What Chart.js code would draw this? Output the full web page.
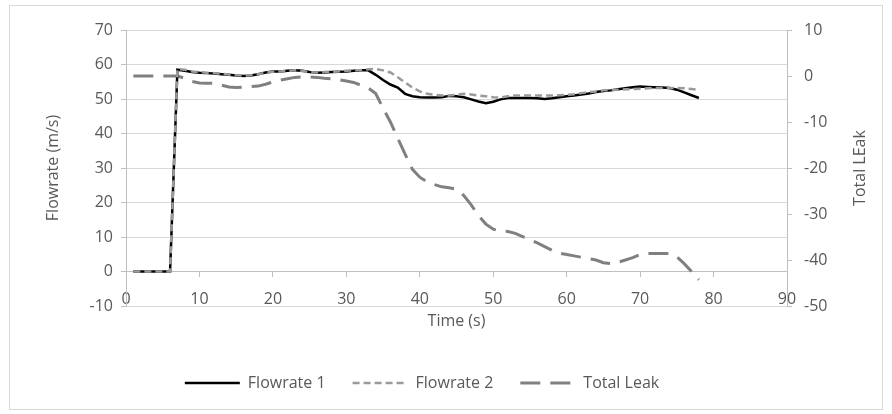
<!DOCTYPE html>
<html>
<head>
<meta charset="utf-8">
<script src="https://cdn.jsdelivr.net/npm/chart.js@4.4.1/dist/chart.umd.min.js"></script>
<style>
  html, body { margin: 0; padding: 0; background: #fff; }
  #wrap { position: relative; width: 892px; height: 414px; }
</style>
</head>
<body>
<div id="wrap"><canvas id="chart" width="892" height="414"></canvas></div>
<script>
// Time axis (s)
const time = [1, 2, 3, 4, 5, 6, 7, 8, 9, 10, 11, 12, 13, 14, 15, 16, 17, 18, 19, 20,
    21, 22, 23, 24, 25, 26, 27, 28, 29, 30, 31, 32, 33, 34, 35, 36, 37, 38, 39, 40,
    41, 42, 43, 44, 45, 46, 47, 48, 49, 50, 51, 52, 53, 54, 55, 56, 57, 58, 59, 60,
    61, 62, 63, 64, 65, 66, 67, 68, 69, 70, 71, 72, 73, 74, 75, 76, 77, 78];

// Flowrate 1 (ml/s) - left axis
const flowrate1 = [0, 0, 0, 0, 0, 0, 58.5, 58.2, 57.8, 57.6, 57.5, 57.4, 57.2, 57.0, 56.8, 56.7, 56.8, 57.2, 57.7, 58.0,
    58.0, 58.2, 58.3, 58.2, 57.8, 57.6, 57.7, 57.8, 57.9, 58.0, 58.2, 58.3, 58.3, 57.0, 55.5, 54.2, 53.3, 51.5, 50.8, 50.5,
    50.4, 50.4, 50.5, 50.9, 50.8, 50.5, 49.9, 49.3, 48.8, 49.2, 49.9, 50.3, 50.3, 50.3, 50.3, 50.2, 50.0, 50.2, 50.5, 50.8,
    51.0, 51.3, 51.6, 52.0, 52.3, 52.5, 52.8, 53.1, 53.4, 53.6, 53.5, 53.4, 53.3, 53.2, 52.7, 51.9, 51.1, 50.3];

// Flowrate 2 (ml/s) - left axis
const flowrate2 = [0, 0, 0, 0, 0, 0, 58.7, 58.5, 58.0, 57.8, 57.6, 57.5, 57.3, 57.1, 56.9, 56.8, 56.9, 57.2, 57.6, 57.9,
    58.0, 58.2, 58.3, 58.1, 57.8, 57.7, 57.8, 57.9, 58.0, 58.2, 58.3, 58.4, 58.6, 58.7, 58.3, 57.7, 56.3, 54.8, 53.3, 52.2,
    51.5, 51.2, 51.0, 51.0, 51.2, 51.5, 51.3, 51.0, 50.8, 50.5, 50.4, 50.8, 51.0, 51.0, 51.0, 51.0, 51.0, 51.0, 51.1, 51.2,
    51.4, 51.7, 52.0, 52.2, 52.5, 52.6, 52.7, 52.8, 52.9, 53.0, 53.1, 53.2, 53.2, 53.2, 53.2, 53.1, 52.9, 52.6];

// Total leak - right axis
const totalLeak = [0, 0, 0, 0, 0, 0, 0, -0.5, -1.2, -1.5, -1.6, -1.6, -2.0, -2.4, -2.5, -2.4, -2.3, -2.2, -1.8, -1.3,
    -0.9, -0.6, -0.3, -0.2, -0.2, -0.3, -0.5, -0.6, -0.8, -1.1, -1.4, -2.0, -2.6, -3.8, -7.0, -10.0, -13.5, -17.0, -20.3, -22.0,
    -23.0, -23.6, -24.1, -24.3, -24.6, -26.0, -28.0, -30.4, -32.2, -33.3, -33.7, -33.8, -34.2, -34.9, -35.6, -36.3, -37.1, -37.9, -38.5, -38.8,
    -39.1, -39.4, -39.7, -40.0, -40.6, -40.8, -40.5, -40.0, -39.5, -38.8, -38.6, -38.6, -38.6, -38.6, -39.3, -40.8, -42.5, -44.3];

const seriesNames = ['Flowrate 1', 'Flowrate 2', 'Total Leak'];
const axisTitles = { x: 'Time (s)', left: 'Flowrate (m/s)', right: 'Total LEak' };

const FONT = 'Open Sans';
const TEXT = '#595959';
const AXIS = '#bfbfbf';
const GRID = '#d9d9d9';

const toPoints = vals => time.map((t, i) => ({ x: t, y: vals[i] }));

// outer chart border
const borderPlugin = {
    id: 'frame',
    beforeDraw(chart) {
        const ctx = chart.ctx;
        ctx.save();
        ctx.strokeStyle = GRID;
        ctx.lineWidth = 1;
        ctx.strokeRect(9.5, 5.5, 873, 404);
        ctx.restore();
    }
};

// right axis title reads bottom-to-top like the left one
const rightTitlePlugin = {
    id: 'rightTitle',
    afterDraw(chart) {
        const ctx = chart.ctx;
        const area = chart.chartArea;
        ctx.save();
        ctx.translate(860, (area.top + area.bottom) / 2);
        ctx.rotate(-Math.PI / 2);
        ctx.font = `16px "${FONT}"`;
        ctx.fillStyle = TEXT;
        ctx.textAlign = 'center';
        ctx.textBaseline = 'middle';
        ctx.fillText(axisTitles.right, 0, 0);
        ctx.restore();
    }
};

// legend swatches take the dataset line style, not the point style
function legendLabels(chart) {
    const items = Chart.defaults.plugins.legend.labels.generateLabels(chart);
    items.forEach(item => {
        const ds = chart.data.datasets[item.datasetIndex];
        item.strokeStyle = ds.borderColor;
        item.lineWidth = ds.borderWidth;
        item.lineDash = ds.borderDash || [];
    });
    return items;
}

new Chart(document.getElementById('chart'), {
    type: 'line',
    data: {
        datasets: [
            {
                label: seriesNames[0],
                data: toPoints(flowrate1),
                yAxisID: 'y',
                borderColor: '#000000',
                borderWidth: 2.5,
                order: 2
            },
            {
                label: seriesNames[1],
                data: toPoints(flowrate2),
                yAxisID: 'y',
                borderColor: '#9a9a9a',
                borderWidth: 2.5,
                borderDash: [7, 4],
                order: 1
            },
            {
                label: seriesNames[2],
                data: toPoints(totalLeak),
                yAxisID: 'y2',
                borderColor: '#808080',
                borderWidth: 3,
                borderDash: [20, 10],
                order: 3
            }
        ]
    },
    options: {
        responsive: false,
        animation: false,
        devicePixelRatio: 1,
        elements: {
            point: { radius: 0 },
            line: { tension: 0, fill: false }
        },
        layout: { padding: { left: 10, right: 58, top: 30, bottom: 13 } },
        plugins: {
            legend: {
                position: 'bottom',
                title: { display: true, text: ' ', font: { size: 10 }, padding: { top: 30, bottom: 0 } },
                labels: {
                    usePointStyle: true,
                    pointStyle: 'line',
                    pointStyleWidth: 55,
                    boxWidth: 55,
                    padding: 27,
                    color: TEXT,
                    font: { family: FONT, size: 16 },
                    generateLabels: legendLabels,
                    sort: (a, b) => a.datasetIndex - b.datasetIndex
                }
            },
            tooltip: { enabled: false }
        },
        scales: {
            x: {
                type: 'linear',
                position: { y: 0 },
                min: 0,
                max: 90,
                afterFit: s => { s.height = 60; },
                ticks: { stepSize: 10, padding: 13, color: TEXT, font: { family: FONT, size: 16 } },
                grid: { drawOnChartArea: false, drawTicks: true, tickLength: 5, tickColor: AXIS },
                border: { color: AXIS },
                title: { display: true, text: axisTitles.x, color: TEXT, font: { family: FONT, size: 16 }, padding: 0 }
            },
            y: {
                position: 'left',
                min: -10,
                max: 70,
                afterFit: s => { s.width = 116; },
                ticks: { stepSize: 10, padding: 8, color: TEXT, font: { family: FONT, size: 16 } },
                grid: { color: GRID, tickLength: 5, tickColor: AXIS },
                border: { color: AXIS },
                title: { display: true, text: axisTitles.left, color: TEXT, font: { family: FONT, size: 16 }, padding: { top: 34 } }
            },
            y2: {
                position: 'right',
                min: -50,
                max: 10,
                afterFit: s => { s.width = 47; },
                ticks: { stepSize: 10, padding: 12, color: TEXT, font: { family: FONT, size: 16 } },
                grid: { drawOnChartArea: false, tickLength: 5, tickColor: AXIS },
                border: { color: AXIS }
            }
        }
    },
    plugins: [borderPlugin, rightTitlePlugin]
});
</script>
</body>
</html>
